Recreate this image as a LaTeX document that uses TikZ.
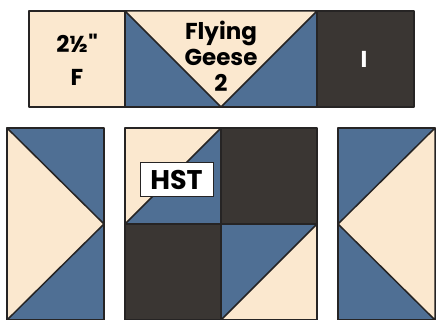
\documentclass[tikz,border=0pt]{standalone}
\usepackage{fontspec}
\setmainfont{Poppins}[BoldFont={* Bold}]
\newfontfamily\inchfont{Poppins}[BoldFont={* Bold}, Ligatures=Common]
\usepackage{xcolor}
\definecolor{qcream}{HTML}{FBE8CF}
\definecolor{qblue}{HTML}{4F6F94}
\definecolor{qdark}{HTML}{3A3633}
\definecolor{qline}{HTML}{262424}
\tikzset{
    patch/.style = {draw=qline, line width=1.5pt, line join=round},
    cream/.style = {patch, fill=qcream},
    blue/.style = {patch, fill=qblue},
    dark/.style = {patch, fill=qdark},
    tlabel/.style = {align=center, inner sep=0pt, font=\bfseries\fontsize{23}{26}\selectfont},
    tag/.style = {align=center, inner sep=0pt, font=\bfseries\fontsize{27}{30}\selectfont,
        draw=qline, fill=white, line width=1pt, minimum width=73pt, minimum height=33pt}
}
\begin{document}
\begin{tikzpicture}[x=1pt, y=-1pt]
    \useasboundingbox (0,0) rectangle (446,320);

    % top row
    \draw [cream] (29,11) rectangle (125,107);
    \draw [blue] (125,11) rectangle (317,107);
    \draw [cream] (125,11) -- (317,11) -- (221,107) -- cycle;
    \draw [dark] (317,11) rectangle (414,107);

    \node [tlabel] (half) at (77,43) {2\textonehalf{\inchfont\bfseries"}};
    \node [tlabel] (f) at (77,77) {F};
    \node [tlabel] (geese) at (221,56) {Flying\\Geese\\2};
    \node [tlabel, white] (i) at (364,59) {I};

    % left goose
    \draw [blue] (7,128) rectangle (104,320);
    \draw [cream] (7,128) -- (104,224) -- (7,320) -- cycle;

    % middle block
    \draw [cream] (125,128) rectangle (221,224);
    \draw [blue] (221,128) -- (221,224) -- (125,224) -- cycle;
    \draw [dark] (221,128) rectangle (317,224);
    \draw [dark] (125,224) rectangle (221,320);
    \draw [cream] (221,224) rectangle (317,320);
    \draw [blue] (221,224) -- (317,224) -- (221,320) -- cycle;

    % right goose
    \draw [blue] (338,128) rectangle (435,320);
    \draw [cream] (435,128) -- (338,224) -- (435,320) -- cycle;

    \node [tag] (hst) at (176.5,179.5) {HST};
\end{tikzpicture}
\end{document}
